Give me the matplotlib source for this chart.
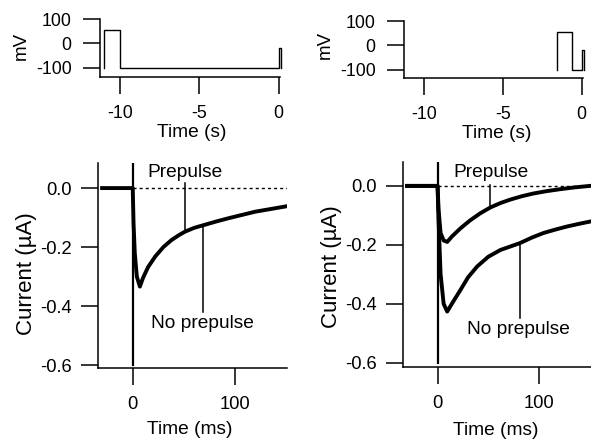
import matplotlib
matplotlib.use("Agg")
import matplotlib.pyplot as plt

plt.rcParams["font.family"] = ["Liberation Sans", "DejaVu Sans"]
plt.rcParams["font.size"] = 13.5
plt.rcParams["axes.unicode_minus"] = False

# voltage protocols (time in s, command in mV)
v_left_t = [-11.0, -11.0, -10.0, -10.0, 0.0, 0.0, 0.15, 0.15]
v_left_mv = [-100, 57, 57, -100, -100, -20, -20, -100]
v_right_t = [-1.6, -1.6, -0.6, -0.6, 0.0, 0.0, 0.15, 0.15]
v_right_mv = [-100, 55, 55, -100, -100, -20, -20, -100]

# current records (time in ms, current in uA)
left_t = [-30, -20, -10, -2, 0, 0.8, 2, 4, 7, 10, 15, 22, 30, 38, 45, 51,
          60, 70, 82, 94, 107, 120, 135, 150]
left_i = [0.0, 0.0, 0.0, 0.0, 0.0, -0.12, -0.22, -0.30, -0.334, -0.305,
          -0.268, -0.232, -0.200, -0.176, -0.160, -0.148, -0.135, -0.125,
          -0.113, -0.102, -0.091, -0.080, -0.071, -0.062]

right_pre_t = [-30, -20, -10, -2, 0, 1, 3, 6, 9.5, 14, 22.5, 32, 42, 52, 62,
               72, 83, 94, 107, 121, 135, 150]
right_pre_i = [0.0, 0.0, 0.0, 0.0, 0.0, -0.08, -0.16, -0.185, -0.19, -0.172,
               -0.144, -0.117, -0.093, -0.073, -0.058, -0.046, -0.035,
               -0.026, -0.018, -0.011, -0.005, 0.0]

right_nopre_t = [-30, -20, -10, -2, 0, 1, 3, 6, 9.5, 14, 22.5, 30, 39, 50,
                 62, 72, 81, 93, 104, 116, 127, 140, 150]
right_nopre_i = [0.0, 0.0, 0.0, 0.0, 0.0, -0.12, -0.30, -0.40, -0.426, -0.40,
                 -0.353, -0.31, -0.273, -0.24, -0.217, -0.205, -0.194, -0.175,
                 -0.160, -0.148, -0.138, -0.128, -0.121]

# capacitive transient at the start of the test pulse
transient_t = [0.5, 0.5]
transient_i = [0.1, -0.60]

W, H = 591, 444
fig = plt.figure(figsize=(W / 100, H / 100), dpi=100)


def px_axes(x0, y0, x1, y1):
    return fig.add_axes([x0 / W, 1 - y1 / H, (x1 - x0) / W, (y1 - y0) / H])


def style(ax, ypad, lsize):
    for s in ["top", "right"]:
        ax.spines[s].set_visible(False)
    for s in ["left", "bottom"]:
        ax.spines[s].set_linewidth(1.1)
    ax.tick_params(direction="out", length=12, width=1.1, labelsize=lsize)
    ax.tick_params(axis="x", pad=8)
    ax.tick_params(axis="y", pad=ypad)


# --- voltage protocols ---
ax_tl = px_axes(100, 19, 280, 77)
ax_tr = px_axes(404, 21, 583, 78)
for ax, t, v, bottom in [(ax_tl, v_left_t, v_left_mv, -137),
                         (ax_tr, v_right_t, v_right_mv, -133)]:
    ax.plot(t, v, color="black", lw=1.0, clip_on=False)
    ax.set_xlim(-11.27, 0.08)
    ax.set_ylim(bottom, 100)
    ax.set_xticks([-10, -5, 0])
    ax.set_yticks([100, 0, -100])
    ax.set_xlabel("Time (s)", fontsize=13.8)
    ax.set_ylabel("mV", fontsize=13.5)
    style(ax, 8.5, 12.8)
ax_tl.xaxis.set_label_coords(0.51, -0.81)
ax_tl.yaxis.set_label_coords(-0.39, 0.53)
ax_tr.xaxis.set_label_coords(0.52, -0.82)
ax_tr.yaxis.set_label_coords(-0.39, 0.58)

# --- current records ---
ax_bl = px_axes(98, 163, 287, 368)
ax_br = px_axes(403, 162, 591, 367)

ax_bl.plot(left_t, left_i, color="black", lw=2.8, solid_joinstyle="round")
ax_br.plot(right_pre_t, right_pre_i, color="black", lw=2.8, solid_joinstyle="round")
ax_br.plot(right_nopre_t, right_nopre_i, color="black", lw=2.8, solid_joinstyle="round")

for ax, ylo, yhi in [(ax_bl, -0.61, 0.085), (ax_br, -0.614, 0.081)]:
    ax.plot(transient_t, transient_i, color="black", lw=1.6)
    ax.plot([0, 151], [0, 0], color="black", lw=1.0, ls=(0, (2.2, 2.2)))
    ax.set_xlim(-34, 151)
    ax.set_ylim(ylo, yhi)
    ax.set_xticks([0, 100])
    ax.set_yticks([0.0, -0.2, -0.4, -0.6])
    ax.set_yticklabels(["0.0", "-0.2", "-0.4", "-0.6"])
    ax.set_xlabel("Time (ms)", fontsize=13.8)
    ax.set_ylabel("Current (\u00b5A)", fontsize=16)
    style(ax, 7, 13.2)
ax_bl.xaxis.set_label_coords(0.487, -0.259)
ax_bl.yaxis.set_label_coords(-0.325, 0.46)
ax_br.xaxis.set_label_coords(0.494, -0.266)
ax_br.yaxis.set_label_coords(-0.324, 0.49)

# labels with pointer lines
ax_bl.text(51, 0.054, "Prepulse", ha="center", va="center", fontsize=13.8)
ax_bl.plot([51, 51], [0.016, -0.148], color="black", lw=1.1)
ax_bl.text(68, -0.458, "No prepulse", ha="center", va="center", fontsize=13.8)
ax_bl.plot([69, 69], [-0.125, -0.42], color="black", lw=1.1)

ax_br.text(52.8, 0.047, "Prepulse", ha="center", va="center", fontsize=13.8)
ax_br.plot([52, 52], [0.003, -0.07], color="black", lw=1.1)
ax_br.text(80, -0.487, "No prepulse", ha="center", va="center", fontsize=13.8)
ax_br.plot([81, 81], [-0.194, -0.447], color="black", lw=1.1)

fig.savefig("out.png", dpi=100)
